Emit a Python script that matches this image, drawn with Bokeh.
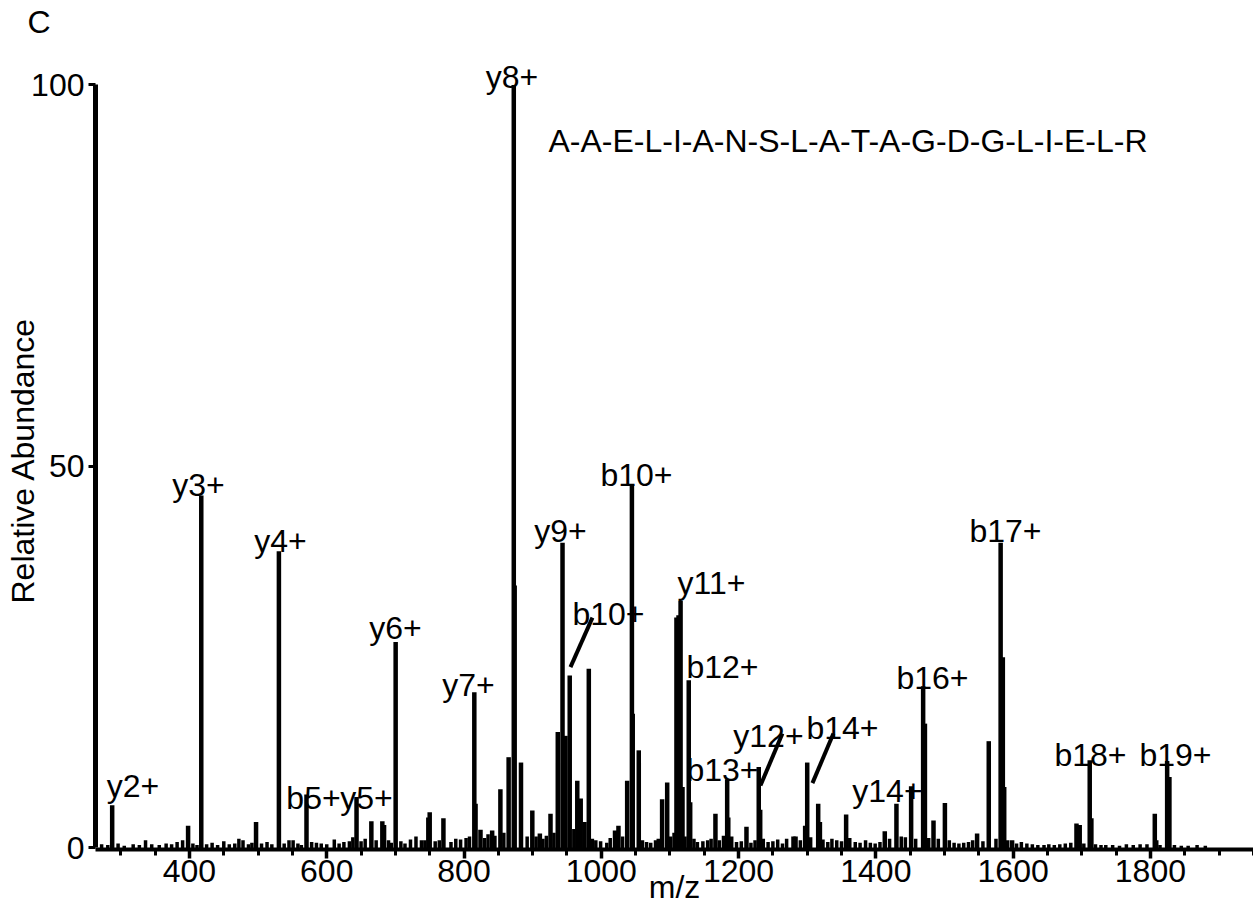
from bokeh.plotting import figure
from bokeh.models import (ColumnDataSource, LinearAxis, FixedTicker, Range1d, Label, Title)
from bokeh.core.properties import value
from bokeh.embed import file_html
from bokeh.resources import INLINE

FONT = "Liberation Sans"

# ---------------- data ----------------
# main (labelled / prominent) peaks: m/z and relative abundance
peak_mz = [287.4, 417.2, 530.3, 570.5, 643.4, 700.4, 815.0, 872.5, 943.5, 954.0,
           1044.6, 1115.5, 1127.4, 1183.4, 1229.4, 1300.0, 1316.0, 1430.0, 1468.9,
           1581.8, 1711.6, 1824.4]
peak_int = [5.6, 46.2, 38.9, 7.0, 6.7, 27.0, 20.4, 100.0, 40.0, 22.6,
            47.5, 32.4, 22.0, 9.0, 10.6, 11.2, 5.8, 5.8, 21.2,
            40.0, 11.5, 11.4]

# other (unlabelled) peaks
minor_mz = [398.0, 497.0, 665.0, 681.0, 683.5, 748.0, 750.0, 770.0, 816.8, 824.0,
            841.0, 853.0, 865.0, 873.8, 883.0, 899.5, 910.5, 926.0, 936.6, 947.8,
            965.0, 970.0, 975.5, 981.8, 1020.0, 1025.0, 1037.7, 1045.8, 1054.6, 1088.6,
            1096.0, 1109.5, 1112.5, 1118.3, 1129.5, 1166.3, 1185.0, 1211.5, 1231.5, 1280.0,
            1283.0, 1297.0, 1318.5, 1356.7, 1413.0, 1451.4, 1471.5, 1484.0, 1500.6, 1547.5,
            1564.5, 1585.0, 1587.0, 1598.5, 1692.3, 1697.0, 1714.0, 1806.4, 1808.5, 1827.7]
minor_int = [2.9, 3.4, 3.5, 3.5, 3.0, 4.0, 4.7, 3.9, 5.8, 2.4,
             2.3, 7.7, 11.9, 34.4, 11.2, 4.9, 1.9, 4.5, 15.2, 14.7,
             8.8, 6.5, 3.4, 23.5, 2.3, 2.9, 8.8, 17.6, 12.8, 6.4,
             8.6, 30.2, 30.5, 8.0, 6.0, 4.5, 4.0, 2.8, 5.0, 1.5,
             1.5, 2.9, 3.4, 4.4, 2.2, 8.1, 16.3, 3.6, 5.9, 1.9,
             14.0, 25.0, 8.0, 1.0, 3.2, 3.0, 3.9, 4.5, 1.0, 9.3]

# baseline noise spikes
noise_mz = [272, 281, 296, 305, 318, 327, 336, 345, 356, 366, 374, 382, 390, 405, 411,
            425, 433, 441, 450, 458, 466, 472, 478, 486, 491, 505, 513, 520, 538, 545,
            551, 558, 563, 578, 585, 592, 600, 611, 618, 625, 633, 638, 650, 656, 672,
            690, 694, 708, 714, 722, 730, 738, 743, 758, 764, 781, 788, 795, 803, 808,
            830, 835, 845, 858, 892, 905, 915, 920, 931, 960, 987, 992, 999, 1008, 1013,
            1031, 1060, 1066, 1072, 1079, 1083, 1101, 1106, 1122, 1135, 1140, 1148, 1155,
            1160, 1172, 1178, 1190, 1197, 1204, 1218, 1224, 1236, 1243, 1250, 1257, 1264,
            1270, 1290, 1305, 1323, 1330, 1336, 1343, 1350, 1362, 1370, 1377, 1385, 1392,
            1399, 1406, 1420, 1437, 1443, 1458, 1477, 1491, 1507, 1514, 1521, 1528, 1535,
            1541, 1556, 1575, 1592, 1605, 1612, 1620, 1628, 1636, 1645, 1652, 1660, 1668,
            1676, 1684, 1703, 1720, 1728, 1735, 1745, 1755, 1765, 1775, 1785, 1795, 1814,
            1835, 1845, 1855, 1868, 1880]
noise_int = [0.5, 0.4, 0.6, 0.3, 0.5, 0.4, 1.0, 0.5, 0.4, 0.6, 0.5, 0.8, 1.0, 0.6, 0.4,
             0.5, 0.7, 0.4, 0.9, 0.5, 0.6, 1.2, 1.0, 0.5, 0.7, 0.6, 0.8, 0.5, 0.6, 1.0,
             1.0, 0.6, 0.4, 0.8, 0.7, 0.6, 0.5, 1.1, 0.6, 0.8, 0.9, 1.4, 0.9, 1.2, 1.0,
             1.0, 0.7, 0.9, 0.6, 1.1, 1.5, 1.0, 1.0, 0.9, 1.0, 0.8, 1.2, 1.1, 1.3, 1.5,
             1.3, 1.8, 1.6, 2.0, 1.5, 1.5, 1.2, 1.6, 2.0, 2.5, 1.2, 1.0, 0.9, 0.7, 1.3,
             1.5, 1.0, 0.8, 0.7, 1.0, 1.2, 1.5, 2.0, 1.5, 1.2, 0.8, 0.9, 1.0,
             1.2, 1.0, 1.6, 1.5, 0.8, 0.9, 0.7, 1.0, 1.2, 0.8, 0.9, 1.1, 0.6,
             1.2, 1.0, 1.4, 1.1, 0.8, 1.2, 1.0, 0.9, 1.3, 0.8, 0.7, 1.0, 0.7,
             0.6, 0.8, 1.2, 1.5, 1.4, 1.2, 1.3, 1.2, 1.0, 0.7, 0.6, 0.7, 0.8,
             1.0, 0.9, 1.2, 1.0, 0.6, 0.8, 0.6, 0.5, 0.4, 0.4, 0.5, 0.4, 0.5,
             0.6, 0.7, 0.6, 0.5, 0.4, 0.4, 0.4, 0.3, 0.5, 0.4, 0.5, 0.5, 0.4,
             0.4, 0.3, 0.3, 0.4, 0.3]

# ion labels: text, anchor m/z (centre), anchor abundance (baseline)
ion_text = ["y2+", "y3+", "y4+", "b5+", "y5+", "y6+", "y7+", "y8+", "y9+", "b10+",
            "b10+", "y11+", "b12+", "b13+", "y12+", "b14+", "y14+", "b16+", "b17+",
            "b18+", "b19+"]
ion_x = [317.7, 413.0, 532.6, 580.7, 657.9, 700.1, 806.5, 869.8, 940.5, 1051.2,
         1010.4, 1160.5, 1176.5, 1176.5, 1243.5, 1351.3, 1416.9, 1482.5, 1588.8,
         1712.6, 1836.5]
ion_y = [8.06, 47.6, 40.3, 6.6, 6.6, 28.8, 21.3, 101.1, 41.6, 48.95,
         30.7, 34.7, 23.7, 10.2, 14.7, 15.7, 7.5, 22.3, 41.6,
         12.25, 12.25]

# leader lines from labels to peaks
lead_x0 = [987.1, 1263.9, 1338.2]
lead_y0 = [30.2, 15.0, 15.0]
lead_x1 = [955.1, 1231.9, 1307.6]
lead_y1 = [23.7, 8.2, 8.5]

sequence = "A-A-E-L-I-A-N-S-L-A-T-A-G-D-G-L-I-E-L-R"
x_ticks = [400, 600, 800, 1000, 1200, 1400, 1600, 1800]
x_minor = list(range(300, 1951, 50))
y_ticks = [0, 50, 100]

# ---------------- figure ----------------
p = figure(width=1253, height=907, output_backend="svg", toolbar_location=None,
           x_range=Range1d(263.1, 1950.2), y_range=Range1d(-0.197, 105.83),
           x_axis_type=None, y_axis_type=None,
           min_border_left=95, min_border_right=0, min_border_top=40, min_border_bottom=58)
p.outline_line_color = None
p.background_fill_color = "white"
p.border_fill_color = "white"

def style_axis(ax):
    ax.axis_line_color = "black"
    ax.major_tick_line_color = "black"
    ax.minor_tick_line_color = "black"
    ax.major_label_text_font = FONT
    ax.major_label_text_font_size = "32px"
    ax.major_label_text_color = "black"
    ax.major_tick_in = 0
    ax.minor_tick_in = 0

xaxis = LinearAxis(ticker=FixedTicker(ticks=x_ticks, minor_ticks=x_minor))
style_axis(xaxis)
xaxis.axis_line_width = 4
xaxis.major_tick_out = 9
xaxis.major_tick_line_width = 3.5
xaxis.minor_tick_out = 6
xaxis.minor_tick_line_width = 3
xaxis.major_label_standoff = 1
xaxis.axis_label = "m/z"
xaxis.axis_label_standoff = -16
xaxis.axis_label_text_font = FONT
xaxis.axis_label_text_font_size = "32px"
xaxis.axis_label_text_font_style = "normal"
xaxis.axis_label_text_color = "black"
p.add_layout(xaxis, "below")

yaxis = LinearAxis(ticker=FixedTicker(ticks=y_ticks), bounds=(0, 100))
style_axis(yaxis)
yaxis.axis_line_width = 5
yaxis.major_tick_out = 7
yaxis.major_tick_line_width = 3
yaxis.minor_tick_line_color = None
yaxis.major_label_standoff = 4
p.add_layout(yaxis, "left")

# panel letter
p.add_layout(Title(text="C", align="left", offset=-68, standoff=2, vertical_align="bottom",
                   text_font=FONT, text_font_size="32px", text_font_style="normal",
                   text_color="black"), "above")
# y axis title (outside the axis panel)
p.add_layout(Title(text="Relative Abundance", align="left", offset=246, standoff=-24,
                   vertical_align="bottom", text_font=FONT, text_font_size="32px",
                   text_font_style="normal", text_color="black"), "left")

all_src = ColumnDataSource(dict(mz=noise_mz, i=noise_int))
p.segment(x0="mz", y0=0, x1="mz", y1="i", source=all_src, line_color="black",
          line_width=3.5, line_cap="butt")
minor_src = ColumnDataSource(dict(mz=minor_mz, i=minor_int))
p.segment(x0="mz", y0=0, x1="mz", y1="i", source=minor_src, line_color="black",
          line_width=4.5, line_cap="butt")
main_src = ColumnDataSource(dict(mz=peak_mz, i=peak_int))
p.segment(x0="mz", y0=0, x1="mz", y1="i", source=main_src, line_color="black",
          line_width=4.5, line_cap="butt")

lead_src = ColumnDataSource(dict(x0=lead_x0, y0=lead_y0, x1=lead_x1, y1=lead_y1))
p.segment(x0="x0", y0="y0", x1="x1", y1="y1", source=lead_src, line_color="black",
          line_width=4, line_cap="butt")

lab_src = ColumnDataSource(dict(x=ion_x, y=ion_y, t=ion_text))
p.text(x="x", y="y", text="t", source=lab_src, text_font=value(FONT),
       text_font_size="32px", text_align="center", text_baseline="alphabetic",
       text_color="black")

p.add_layout(Label(x=923, y=92.7, text=sequence, text_font=FONT, text_font_size="32px",
                   text_align="left", text_baseline="alphabetic", text_color="black"))

open("out.html", "w").write(file_html(p, INLINE))
